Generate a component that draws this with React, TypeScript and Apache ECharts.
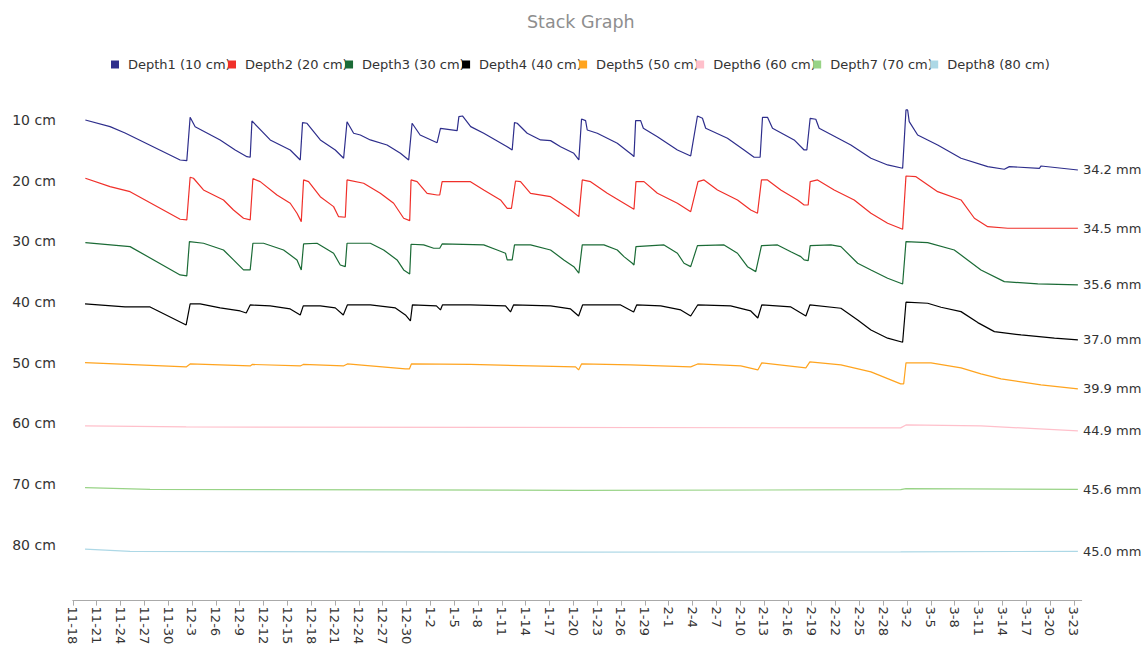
import React, { useEffect, useRef } from "react";
import * as echarts from "echarts";

const seriesNames = [
  "Depth1 (10 cm)",
  "Depth2 (20 cm)",
  "Depth3 (30 cm)",
  "Depth4 (40 cm)",
  "Depth5 (50 cm)",
  "Depth6 (60 cm)",
  "Depth7 (70 cm)",
  "Depth8 (80 cm)",
];

const seriesColors = [
  "#2e2e8c",
  "#f0302a",
  "#1b6b36",
  "#000000",
  "#ffa41f",
  "#ffc0cb",
  "#98d386",
  "#add8e6",
];

const endLabels = [
  "34.2 mm",
  "34.5 mm",
  "35.6 mm",
  "37.0 mm",
  "39.9 mm",
  "44.9 mm",
  "45.6 mm",
  "45.0 mm",
];

const yTickLabels = ["10 cm", "20 cm", "30 cm", "40 cm", "50 cm", "60 cm", "70 cm", "80 cm"];

const xTickLabels = [
  "11-18", "11-21", "11-24", "11-27", "11-30", "12-3", "12-6", "12-9", "12-12", "12-15",
  "12-18", "12-21", "12-24", "12-27", "12-30", "1-2", "1-5", "1-8", "1-11", "1-14",
  "1-17", "1-20", "1-23", "1-26", "1-29", "2-1", "2-4", "2-7", "2-10", "2-13",
  "2-16", "2-19", "2-22", "2-25", "2-28", "3-2", "3-5", "3-8", "3-11", "3-14",
  "3-17", "3-20", "3-23",
];

// [day since 11-18, plotted depth position]
const depth1 = [
  [1.58, 10.0], [4.69, 11.1], [6.58, 12.14], [13.51, 16.59], [14.35, 16.7], [14.77, 9.56],
  [15.4, 11.1], [18.55, 13.29], [20.44, 14.94], [21.92, 16.05], [22.33, 16.14], [22.55, 10.16],
  [24.85, 13.29], [27.37, 14.94], [28.63, 16.59], [28.92, 10.44], [29.48, 10.54], [31.16, 13.29],
  [33.04, 14.94], [34.09, 16.31], [34.52, 10.28], [35.35, 12.19], [36.19, 12.47], [37.45, 13.29],
  [39.56, 14.12], [41.24, 15.49], [42.28, 16.59], [42.71, 10.54], [43.72, 12.47], [45.86, 13.74],
  [46.28, 11.37], [48.38, 11.76], [48.6, 9.45], [49.05, 9.34], [50.09, 11.1], [51.73, 12.19],
  [54.68, 14.4], [55.31, 14.94], [55.6, 10.44], [55.94, 10.54], [57.2, 12.19], [58.88, 13.29],
  [60.14, 13.4], [61.4, 14.4], [63.07, 15.49], [63.7, 16.59], [64.04, 9.83], [64.55, 10.11],
  [64.76, 11.65], [66.02, 12.19], [68.54, 13.84], [70.43, 15.77], [70.64, 16.05], [70.85, 10.11],
  [71.48, 10.11], [71.82, 11.37], [73.59, 12.75], [76.11, 14.94], [77.78, 15.93], [78.63, 9.34],
  [79.26, 9.72], [79.67, 11.37], [82.41, 13.01], [84.5, 14.94], [85.76, 16.14], [86.52, 16.14],
  [86.82, 9.56], [87.45, 9.56], [88.08, 11.37], [90.8, 13.29], [92.06, 14.94], [92.4, 14.94],
  [92.82, 9.72], [93.53, 9.88], [93.95, 11.37], [97.94, 14.12], [100.47, 16.31], [102.57, 17.41],
  [104.46, 17.96], [104.88, 8.35], [105.09, 8.35], [105.29, 10.28], [106.35, 12.47], [108.87, 14.12],
  [111.81, 16.31], [115.17, 17.69], [117.26, 18.12], [117.89, 17.69], [121.67, 17.96], [121.89, 17.58],
  [126.52, 18.24],
];

const depth2 = [
  [1.58, 19.6], [4.69, 20.99], [7.21, 21.81], [13.51, 26.36], [14.35, 26.47], [14.77, 19.44],
  [15.19, 19.6], [16.45, 21.53], [18.97, 23.18], [20.23, 24.83], [21.49, 26.19], [22.33, 26.47],
  [22.67, 19.67], [23.59, 20.16], [25.7, 22.36], [27.37, 23.72], [28.22, 25.37], [28.76, 26.75],
  [29.05, 19.88], [29.68, 20.16], [31.15, 22.64], [32.83, 24.28], [33.46, 25.93], [34.3, 26.03],
  [34.52, 19.88], [36.61, 20.43], [38.71, 22.07], [40.39, 23.72], [41.65, 26.19], [42.41, 26.59],
  [42.58, 19.88], [43.34, 20.16], [44.6, 22.08], [45.86, 22.36], [46.19, 22.36], [46.49, 20.16],
  [50.06, 20.16], [51.73, 21.53], [53.84, 23.18], [54.68, 24.55], [55.22, 24.55], [55.73, 20.05],
  [56.36, 20.16], [57.62, 22.08], [60.14, 22.64], [61.4, 23.72], [62.66, 24.83], [63.7, 25.93],
  [64.13, 19.88], [65.18, 20.16], [67.28, 22.08], [69.38, 23.72], [70.64, 24.71], [70.89, 20.16],
  [71.9, 20.16], [73.59, 22.08], [76.11, 23.72], [77.78, 25.11], [78.7, 20.16], [79.46, 19.88],
  [81.15, 21.53], [83.67, 23.18], [85.34, 24.83], [86.19, 25.37], [86.69, 19.88], [87.45, 19.88],
  [89.12, 21.53], [91.23, 23.18], [92.06, 24.01], [92.57, 24.01], [92.82, 20.16], [93.75, 19.88],
  [95.84, 21.53], [98.36, 23.18], [100.47, 25.37], [102.57, 27.02], [104.46, 28.01], [104.88, 19.23],
  [106.14, 19.34], [108.87, 21.81], [111.81, 23.18], [113.49, 26.19], [115.17, 27.58], [117.69, 27.84],
  [126.52, 27.84],
];

const depth3 = [
  [1.58, 30.21], [7.21, 30.87], [13.51, 35.53], [14.35, 35.7], [14.68, 30.05], [16.45, 30.31],
  [18.97, 31.42], [20.23, 33.06], [21.49, 34.71], [22.33, 34.71], [22.67, 30.31], [24.01, 30.31],
  [26.53, 31.42], [28.22, 33.06], [28.76, 34.71], [29.05, 30.43], [30.74, 30.31], [32.83, 31.96],
  [33.67, 33.89], [34.3, 34.17], [34.52, 30.31], [37.45, 30.31], [39.13, 31.42], [40.82, 33.06],
  [41.65, 34.71], [42.41, 35.37], [42.58, 30.48], [44.17, 30.59], [45.43, 31.14], [46.19, 31.14],
  [46.49, 30.43], [51.73, 30.59], [53.42, 31.42], [54.47, 31.96], [54.68, 33.06], [55.31, 33.06],
  [55.6, 30.59], [57.62, 30.59], [60.14, 31.42], [61.81, 33.06], [63.07, 34.17], [63.7, 35.25],
  [64.13, 30.59], [66.86, 30.59], [68.54, 31.42], [69.38, 32.52], [70.43, 33.61], [70.64, 33.89],
  [70.89, 30.87], [74.42, 30.59], [76.11, 31.96], [76.94, 33.61], [77.78, 34.17], [78.63, 30.71],
  [81.98, 30.59], [83.67, 31.96], [84.93, 34.17], [85.97, 34.99], [86.69, 30.71], [88.71, 30.59],
  [90.38, 31.7], [91.64, 32.52], [92.06, 33.06], [92.57, 33.18], [92.82, 30.71], [95.43, 30.59],
  [96.69, 30.87], [98.8, 33.61], [100.47, 34.71], [102.57, 36.08], [104.46, 37.02], [104.88, 30.05],
  [107.61, 30.21], [110.96, 31.42], [112.64, 33.06], [114.32, 34.71], [117.26, 36.64], [121.47, 37.02],
  [126.52, 37.18],
];

const depth4 = [
  [1.54, 40.31], [6.58, 40.81], [9.73, 40.81], [14.27, 43.78], [14.77, 40.31], [16.03, 40.31],
  [18.55, 40.97], [21.07, 41.47], [21.83, 41.8], [22.33, 40.48], [24.85, 40.64], [27.37, 41.14],
  [28.63, 42.13], [29.01, 40.64], [31.15, 40.64], [33.04, 40.97], [34.05, 42.13], [34.56, 40.48],
  [37.46, 40.48], [40.61, 40.97], [41.87, 42.13], [42.5, 43.12], [42.75, 40.48], [45.77, 40.64],
  [46.28, 41.3], [46.53, 40.48], [50.06, 40.48], [54.47, 40.64], [55.1, 41.63], [55.48, 40.48],
  [60.14, 40.64], [62.66, 41.14], [63.67, 42.3], [64.17, 40.48], [68.96, 40.48], [70.6, 41.63],
  [70.98, 40.48], [74.01, 40.64], [76.53, 41.3], [77.78, 42.3], [78.66, 40.48], [82.81, 40.64],
  [85.34, 41.47], [86.23, 42.63], [86.73, 40.48], [90.39, 40.81], [92.28, 42.3], [92.78, 40.48],
  [96.69, 41.02], [98.8, 42.95], [100.47, 44.6], [102.57, 45.96], [104.46, 46.62], [104.88, 40.03],
  [107.61, 40.2], [109.29, 40.86], [111.81, 41.58], [113.92, 43.39], [116.01, 44.88], [119.37, 45.42],
  [123.57, 45.96], [126.52, 46.24],
];

const depth5 = [
  [1.54, 49.98], [14.27, 50.69], [14.77, 50.2], [22.33, 50.53], [22.58, 50.28], [28.63, 50.53],
  [29.01, 50.28], [34.05, 50.53], [34.56, 50.2], [41.87, 51.02], [42.37, 51.02], [42.62, 50.2],
  [50.06, 50.28], [63.29, 50.69], [63.67, 51.19], [64.04, 50.2], [70.22, 50.36], [77.78, 50.69],
  [78.66, 50.2], [84.08, 50.53], [86.23, 51.19], [86.73, 50.03], [92.28, 50.86], [92.78, 49.87],
  [96.69, 50.36], [100.47, 51.51], [104.21, 53.49], [104.59, 53.49], [104.88, 50.03], [108.03, 50.03],
  [111.81, 50.86], [114.32, 51.84], [116.84, 52.67], [121.87, 53.65], [126.52, 54.32],
];

const depth6 = [
  [1.54, 60.41], [14.27, 60.58], [53.84, 60.66], [104.21, 60.74], [104.88, 60.25], [114.32, 60.41],
  [126.52, 61.24],
];

const depth7 = [
  [1.54, 70.58], [9.73, 70.87], [41.24, 70.96], [63.92, 71.04], [104.21, 70.92], [104.88, 70.76],
  [126.52, 70.87],
];

const depth8 = [
  [1.54, 80.72], [7.21, 81.08], [63.92, 81.22], [104.21, 81.17], [126.52, 81.08],
];

const allDepths = [depth1, depth2, depth3, depth4, depth5, depth6, depth7, depth8];

export default function App() {
  const ref = useRef<HTMLDivElement>(null);

  useEffect(() => {
    if (!ref.current) return;
    const chart = echarts.init(ref.current, null, { renderer: "svg" });
    const font = "DejaVu Sans";
    chart.setOption({
      animation: false,
      textStyle: { fontFamily: font },
      title: {
        text: "Stack Graph",
        left: 527,
        top: 13,
        padding: 0,
        textStyle: { fontSize: 17.5, fontWeight: "normal", color: "#8e8e8e", fontFamily: font },
      },
      legend: {
        data: seriesNames,
        left: 111,
        top: 58,
        padding: 0,
        itemGap: -2.6,
        itemWidth: 16,
        itemHeight: 8,
        icon: "path://M0,0L10,0L10,10L0,10Z",
        textStyle: { fontSize: 13, color: "#333", fontFamily: font },
      },
      grid: {
        left: 72.8,
        right: 65.3,
        top: 59.3,
        bottom: 47.4,
        containLabel: false,
        outerBoundsMode: "none",
      },
      xAxis: {
        type: "value",
        min: 0,
        max: 127,
        interval: 3,
        splitLine: { show: false },
        axisLine: { onZero: false, lineStyle: { color: "#aaa", width: 1 } },
        axisTick: { show: true, length: 5, lineStyle: { color: "#aaa" } },
        axisLabel: {
          rotate: -90,
          fontSize: 13,
          color: "#333",
          fontFamily: font,
          margin: 6,
          showMaxLabel: false,
          formatter: (v: number) => {
            const r = Math.round(v);
            if (r % 3 !== 0 || Math.abs(v - r) > 1e-6) return "";
            return xTickLabels[r / 3] ?? "";
          },
        },
      },
      yAxis: {
        type: "value",
        inverse: true,
        min: 0,
        max: 89.2,
        interval: 10,
        splitLine: { show: false },
        axisLine: { show: false },
        axisTick: { show: false },
        axisLabel: {
          fontSize: 14,
          color: "#333",
          fontFamily: font,
          margin: 17,
          formatter: (v: number) => {
            const r = Math.round(v);
            if (Math.abs(v - r) > 1e-6 || r % 10 !== 0 || r === 0) return "";
            return yTickLabels[r / 10 - 1] ?? "";
          },
        },
      },
      series: allDepths.map((d, i) => ({
        name: seriesNames[i],
        type: "line",
        data: d,
        symbol: "none",
        showSymbol: false,
        color: seriesColors[i],
        lineStyle: { width: 1.2, color: seriesColors[i] },
        emphasis: { disabled: true },
        endLabel: {
          show: true,
          formatter: () => endLabels[i],
          fontSize: 13,
          color: "#333",
          fontFamily: font,
          distance: 5,
        },
      })),
    });
    return () => chart.dispose();
  }, []);

  return (
    <div
      ref={ref}
      style={{ position: "absolute", left: 0, top: 0, width: 1147, height: 648 }}
    />
  );
}
